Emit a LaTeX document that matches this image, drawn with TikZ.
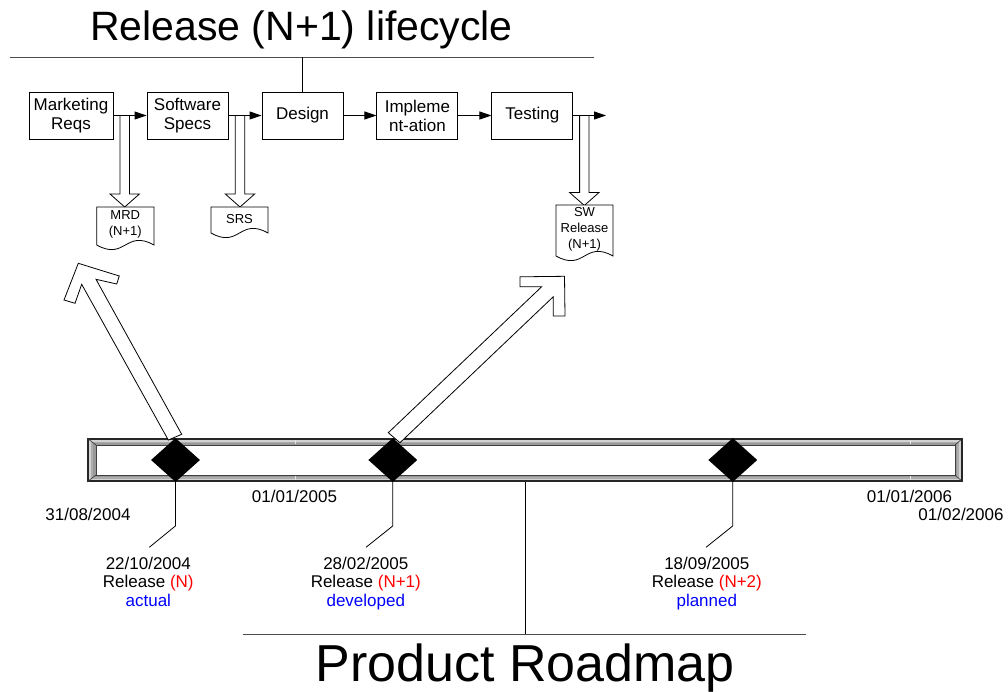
\documentclass[tikz,border=0pt]{standalone}
\usepackage{fontspec}
\setmainfont{Liberation Sans}
\usetikzlibrary{arrows.meta,shapes.geometric,calc}
\newcommand\myfs[2]{\fontsize{#1}{#2}\selectfont}
\tikzset{
  procbox/.style={draw, line width=0.9pt, minimum width=81pt, minimum height=47pt, align=center, inner sep=0pt, font=\myfs{17}{19}},
  flow/.style={line width=0.9pt, -{Triangle[length=12pt,width=8pt]}},
  hollow/.style={draw, fill=white, line width=0.8pt, line join=miter},
  docline/.style={draw, fill=white, line width=0.8pt},
  doctext/.style={align=center, font=\myfs{13}{16}, inner sep=0pt},
  datelabel/.style={font=\myfs{17}{18.5}, anchor=base, inner sep=0pt},
  rellabel/.style={font=\myfs{17}{18.5}, align=center, anchor=north, inner sep=0pt},
  leader/.style={line width=0.8pt},
  titleline/.style={line width=1pt, black!70},
  milestone/.style={diamond, fill=black, minimum width=49pt, minimum height=44pt, inner sep=0pt},
  pics/docshape/.style args={#1/#2}{code={
    \path[docline] (0,0) -- (#1,0) -- (#1,#2) .. controls ({#1/2},{#2-16}) and ({#1/2},{#2+16}) .. (0,#2) -- cycle;
  }},
  pics/hdown/.style={code={
    \path[hollow] (-4.7,-#1) -- (-4.7,-13) -- (-14.7,-13) -- (0,0) -- (14.7,-13) -- (4.7,-13) -- (4.7,-#1) -- cycle;
  }}
}
\begin{document}
\begin{tikzpicture}[x=1pt,y=-1pt]
\useasboundingbox (0,0) rectangle (1008,691);

% ---- Release lifecycle title ----
\node[font=\myfs{41}{45}, anchor=base, inner sep=0pt] (t1) at (301.5,40) {Release (N+1) lifecycle};
\coordinate (tl1) at (10,57);
\coordinate (tl2) at (594,57);
\draw[titleline] (tl1) -- (tl2);

% ---- process boxes ----
\node[procbox, minimum width=84pt] (mkt) at (71,115.5) {Marketing\\Reqs};
\node[procbox] (sws) at (187.5,115.5) {Software\\Specs};
\node[procbox] (des) at (302.5,115.5) {Design};
\node[procbox] (imp) at (417.4,115.5) {Impleme\\nt-ation};
\node[procbox] (tst) at (532.4,115.5) {Testing};
\coordinate (out) at (606,115.5);
\draw[line width=0.9pt] (des.north) -- (des.north |- tl1);

% ---- hollow down arrows to documents ----
\pic at (124.7,207) {hdown=91.5};
\pic at (240,207) {hdown=91.5};
\pic at (584.3,205.5) {hdown=90};

% ---- flow connectors ----
\draw[flow] (mkt) -- (sws);
\draw[flow] (sws) -- (des);
\draw[flow] (des) -- (imp);
\draw[flow] (imp) -- (tst);
\draw[flow] (tst) -- (out);

% ---- documents ----
\pic at (96.7,207) {docshape=57.3/38};
\pic at (211,207) {docshape=57/26};
\pic at (556,205) {docshape=57/51};
\node[doctext] (mrd) at (125.3,224.5) {MRD\\(N+1)};
\node[doctext] (srs) at (239.5,219.5) {SRS};
\node[doctext] (swr) at (584.5,229.5) {SW\\Release\\(N+1)};

% ---- timeline bar ----
\node[inner sep=0pt, minimum width=876pt, minimum height=44pt] (bar) at (525,460) {};
\fill[black!85] (87,438) rectangle (963,482);
\fill[gray!35] (88.8,439.8) rectangle (961.2,480.2);
\fill[gray!65] (90.8,441.5) rectangle (959.2,478.5);
\fill[gray!80] (93,443) rectangle (957,477);
\draw[black!75, fill=white, line width=0.7pt] (96,445) rectangle (955,475);
\draw[gray!40!black, line width=0.6pt] (87,438) -- (96,445) (963,438) -- (955,445) (87,482) -- (96,475) (963,482) -- (955,475);
\draw[gray!20, line width=0.8pt] (295,440) -- (295,444) (295,476) -- (295,480) (910,440) -- (910,444) (910,476) -- (910,480);

% ---- big hollow arrows ----
\path[hollow] (78.3,263.3) -- (119.3,276) -- (116.7,284) -- (96,279.3) -- (181.7,434.3) -- (168.3,440) -- (81.7,284.3) -- (75,303.3) -- (64,300) -- cycle;
\path[hollow] (388.3,432.7) -- (541.7,286.7) -- (520,286.7) -- (520,276.8) -- (564.5,276.3) -- (565,316) -- (553.3,316) -- (553.3,296.7) -- (400,442.7) -- cycle;

% ---- milestones ----
\node[milestone] (m1) at (175.5,460) {};
\node[milestone] (m2) at (392.8,460) {};
\node[milestone] (m3) at (732.8,460) {};

% ---- release labels ----
\node[rellabel] (r1) at (148.3,556.5) {22/10/2004\\Release \textcolor{red}{(N)}\\\textcolor{blue}{actual}};
\node[rellabel] (r2) at (365.8,556.5) {28/02/2005\\Release \textcolor{red}{(N+1)}\\\textcolor{blue}{developed}};
\node[rellabel] (r3) at (706.8,556.5) {18/09/2005\\Release \textcolor{red}{(N+2)}\\\textcolor{blue}{planned}};
\coordinate (l1) at (149.3,547.3);
\coordinate (l2) at (366,547.3);
\coordinate (l3) at (706,547.3);
\draw[leader] (m1.south) -- ++(0,43.7) -- (l1);
\draw[leader] (m2.south) -- ++(0,43.7) -- (l2);
\draw[leader] (m3.south) -- ++(0,43.7) -- (l3);

% ---- dates ----
\node[datelabel] (d1) at (88,520.5) {31/08/2004};
\node[datelabel] (d2) at (294.5,502) {01/01/2005};
\node[datelabel] (d3) at (909.5,502) {01/01/2006};
\node[datelabel] (d4) at (961,520.5) {01/02/2006};

% ---- product roadmap ----
\coordinate (rl1) at (243,634);
\coordinate (rl2) at (806,634);
\draw[titleline] (rl1) -- (rl2);
\draw[line width=0.9pt] (bar.south) -- (bar.south |- rl1);
\node[font=\myfs{52}{56}, anchor=base, inner sep=0pt] (t2) at (525,681) {Product Roadmap};
\end{tikzpicture}
\end{document}
